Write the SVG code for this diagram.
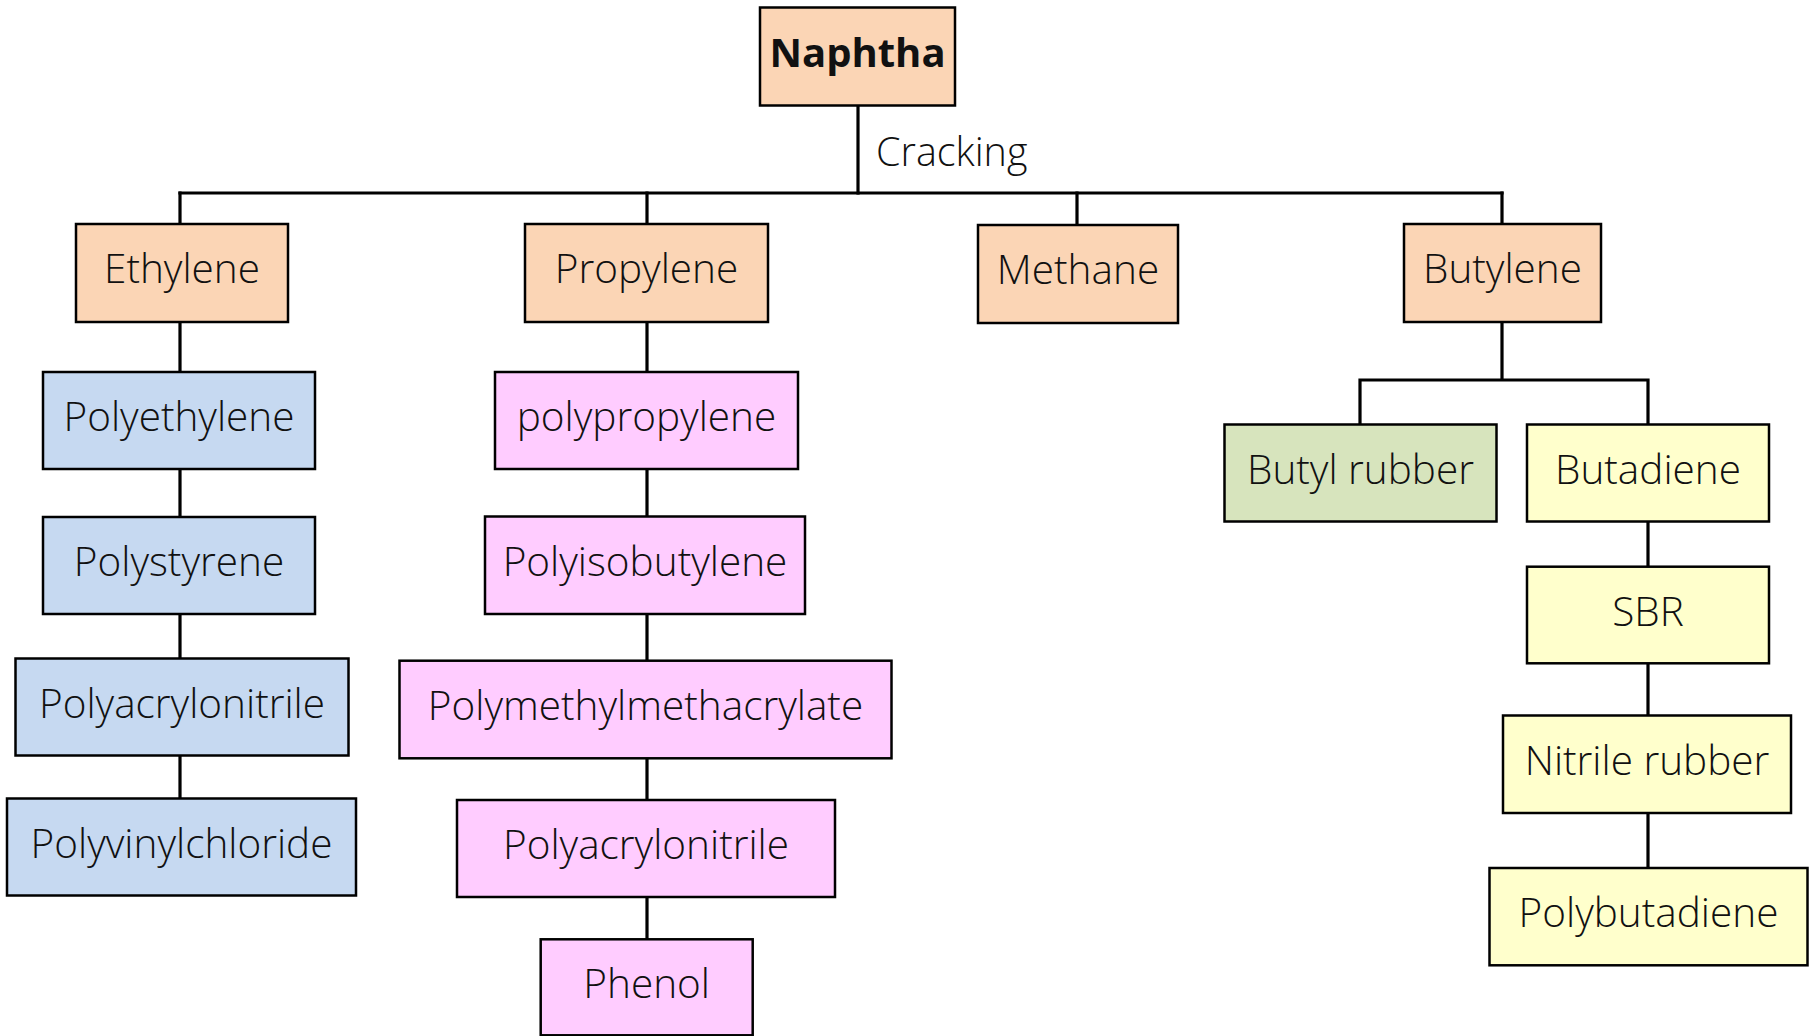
<svg xmlns="http://www.w3.org/2000/svg" width="1818" height="1036" viewBox="0 0 1818 1036">
  <style>
    .box { stroke: #000; stroke-width: 2.5; }
    .peach { fill: #FBD5B5; }
    .blue { fill: #C6D9F1; }
    .pink { fill: #FFCCFF; }
    .green { fill: #D7E4BD; }
    .yellow { fill: #FFFFCC; }
    .lbl { font-family: "Open Sans", "Liberation Sans", sans-serif; font-size: 40.5px; font-weight: 300; fill: #111; text-anchor: middle; }
    .bold { font-weight: bold; font-size: 40px; }
    .conn { fill: none; stroke: #000; stroke-width: 3.2; stroke-linecap: square; }
  </style>
  <rect width="1818" height="1036" fill="#fff"/>

  <!-- connectors -->
  <g id="connectors" class="conn">
    <path d="M858 106 V193"/>
    <path d="M180 193 H1502"/>
    <path d="M180 193 V224 M647 193 V224 M1077 193 V225 M1502 193 V224"/>
    <!-- ethylene chain -->
    <path d="M180 322 V372 M180 469 V517 M180 614 V658 M180 756 V798"/>
    <!-- propylene chain -->
    <path d="M647 322 V372 M647 469 V516 M647 614 V661 M647 758 V800 M647 897 V939"/>
    <!-- butylene branch -->
    <path d="M1502 322 V380 M1360 380 H1648 M1360 380 V424 M1648 380 V424"/>
    <path d="M1648 521 V567 M1648 663 V715 M1648 813 V868"/>
  </g>

  <!-- source -->
  <g id="naphtha">
    <rect class="box peach" x="760" y="7.5" width="195" height="98"/>
    <text class="lbl bold" x="857.5" y="66.5">Naphtha</text>
  </g>
  <text id="cracking-label" class="lbl" style="font-size:39.5px;text-anchor:start" x="876" y="166">Cracking</text>

  <!-- cracking products -->
  <g id="ethylene">
    <rect class="box peach" x="76" y="224" width="212" height="98"/>
    <text class="lbl" x="182" y="283">Ethylene</text>
  </g>
  <g id="propylene">
    <rect class="box peach" x="525" y="224" width="243" height="98"/>
    <text class="lbl" x="646.5" y="283">Propylene</text>
  </g>
  <g id="methane">
    <rect class="box peach" x="978" y="225" width="200" height="98"/>
    <text class="lbl" x="1078" y="284">Methane</text>
  </g>
  <g id="butylene">
    <rect class="box peach" x="1404" y="224" width="197" height="98"/>
    <text class="lbl" x="1502.5" y="283">Butylene</text>
  </g>

  <!-- ethylene derivatives -->
  <g id="polyethylene">
    <rect class="box blue" x="43" y="372" width="272" height="97"/>
    <text class="lbl" x="179" y="431">Polyethylene</text>
  </g>
  <g id="polystyrene">
    <rect class="box blue" x="43" y="517" width="272" height="97"/>
    <text class="lbl" x="179" y="576">Polystyrene</text>
  </g>
  <g id="polyacrylonitrile-e">
    <rect class="box blue" x="15.5" y="658.5" width="333" height="97"/>
    <text class="lbl" x="182" y="717.5">Polyacrylonitrile</text>
  </g>
  <g id="polyvinylchloride">
    <rect class="box blue" x="7" y="798.5" width="349" height="97"/>
    <text class="lbl" x="181.5" y="857.5">Polyvinylchloride</text>
  </g>

  <!-- propylene derivatives -->
  <g id="polypropylene">
    <rect class="box pink" x="495" y="372" width="303" height="97"/>
    <text class="lbl" x="646.5" y="431">polypropylene</text>
  </g>
  <g id="polyisobutylene">
    <rect class="box pink" x="485" y="516.5" width="320" height="97.5"/>
    <text class="lbl" x="645" y="575.5">Polyisobutylene</text>
  </g>
  <g id="polymethylmethacrylate">
    <rect class="box pink" x="399.5" y="660.7" width="492" height="97.6"/>
    <text class="lbl" x="645.5" y="719.7">Polymethylmethacrylate</text>
  </g>
  <g id="polyacrylonitrile-p">
    <rect class="box pink" x="457" y="800" width="378" height="97"/>
    <text class="lbl" x="646" y="859">Polyacrylonitrile</text>
  </g>
  <g id="phenol">
    <rect class="box pink" x="540.7" y="939.3" width="212" height="96"/>
    <text class="lbl" x="646.7" y="998">Phenol</text>
  </g>

  <!-- butylene derivatives -->
  <g id="butyl-rubber">
    <rect class="box green" x="1224.5" y="424.5" width="272" height="97"/>
    <text class="lbl" x="1360.5" y="483.5">Butyl rubber</text>
  </g>
  <g id="butadiene">
    <rect class="box yellow" x="1527" y="424.5" width="242" height="97"/>
    <text class="lbl" x="1648" y="483.5">Butadiene</text>
  </g>
  <g id="sbr">
    <rect class="box yellow" x="1527" y="566.7" width="242" height="96.6"/>
    <text class="lbl" x="1648" y="625.5">SBR</text>
  </g>
  <g id="nitrile-rubber">
    <rect class="box yellow" x="1503" y="715.5" width="288" height="97.5"/>
    <text class="lbl" x="1647" y="774.5">Nitrile rubber</text>
  </g>
  <g id="polybutadiene">
    <rect class="box yellow" x="1489.5" y="868" width="318" height="97.3"/>
    <text class="lbl" x="1648.5" y="927">Polybutadiene</text>
  </g>
</svg>
